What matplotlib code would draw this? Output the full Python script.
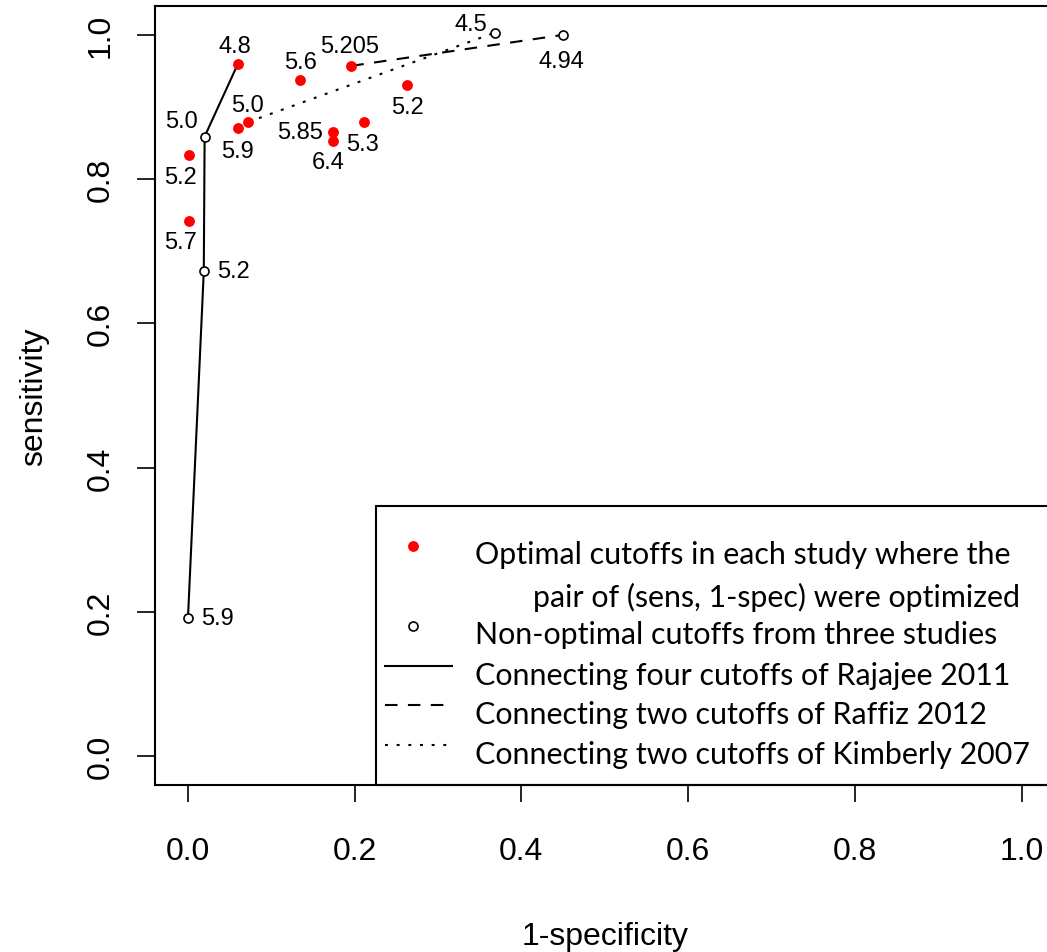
import matplotlib
matplotlib.use("Agg")
import matplotlib.pyplot as plt
from matplotlib.patches import Rectangle

# ---- data ----
opt_x = [0.060, 0.135, 0.196, 0.263, 0.072, 0.060, 0.1735, 0.1735, 0.211, 0.001, 0.001]
opt_y = [0.960, 0.937, 0.957, 0.931, 0.879, 0.871, 0.866, 0.853, 0.879, 0.834, 0.742]
opt_labels = ["4.8", "5.6", "5.205", "5.2", "5.0", "5.9", "5.85", "6.4", "5.3", "5.2", "5.7"]

non_x = [0.020, 0.019, 0.0, 0.368, 0.450]
non_y = [0.859, 0.672, 0.191, 1.003, 1.000]
non_labels = ["5.0", "5.2", "5.9", "4.5", "4.94"]

rajajee_x = [0.060, 0.020, 0.019, 0.0]
rajajee_y = [0.960, 0.859, 0.672, 0.191]
raffiz_x = [0.196, 0.450]
raffiz_y = [0.957, 1.000]
kimberly_x = [0.072, 0.368]
kimberly_y = [0.879, 1.003]

xticks = [0.0, 0.2, 0.4, 0.6, 0.8, 1.0]
yticks = [0.0, 0.2, 0.4, 0.6, 0.8, 1.0]

legend_labels = [
    "Optimal cutoffs in each study where the",
    "pair of (sens, 1-spec) were optimized",
    "Non-optimal cutoffs from three studies",
    "Connecting four cutoffs of Rajajee 2011",
    "Connecting two cutoffs of Raffiz 2012",
    "Connecting two cutoffs of Kimberly 2007",
]

# label offsets in pixels (dx, dy) relative to point
opt_offsets = [(-3, 18), (0, 18), (-2, 20), (0, -22), (0, 17), (0, -23),
               (-33, 0), (-4, -21), (-1, -22), (-8, -22), (-8, -21)]
non_offsets = [(-23, 16), (30, 0), (30, 0), (-24, 9), (-2, -26)]

W, H = 1047, 953
fig = plt.figure(figsize=(W / 100, H / 100), dpi=100)
left, right, bottom, top = 154.6, 1055.0, 786.0, 7.0
ax = fig.add_axes([left / W, 1 - bottom / H, (right - left) / W, (bottom - top) / H])
ax.set_xlim(-0.04, 1.04)
ax.set_ylim(-0.04, 1.04)

lw = 1.5
dash = (6, 5)
dot = (1.4, 4.2)
ax.plot(rajajee_x, rajajee_y, color="black", lw=lw, zorder=2)
ax.plot(raffiz_x, raffiz_y, color="black", lw=lw, dashes=dash, zorder=2)
ax.plot(kimberly_x, kimberly_y, color="black", lw=lw, dashes=dot, zorder=2)
ax.plot(opt_x, opt_y, "o", color="#ff0000", markersize=7.8, markeredgewidth=0, zorder=3)
ax.plot(non_x, non_y, "o", markerfacecolor="white", markeredgecolor="black",
        markersize=6.5, markeredgewidth=1.2, zorder=3)

lab_font = dict(family=["Liberation Sans", "DejaVu Sans"], fontsize=17)
for x, y, s, (dx, dy) in zip(opt_x, opt_y, opt_labels, opt_offsets):
    ax.annotate(s, (x, y), xytext=(dx, dy), textcoords="offset pixels",
                ha="center", va="center", **lab_font)
for x, y, s, (dx, dy) in zip(non_x, non_y, non_labels, non_offsets):
    ax.annotate(s, (x, y), xytext=(dx, dy), textcoords="offset pixels",
                ha="center", va="center", **lab_font)

# axes styling
for sp in ax.spines.values():
    sp.set_linewidth(1.5)
ax.set_xticks(xticks)
ax.set_yticks(yticks)
ax.set_xticklabels([f"{v:.1f}" for v in xticks], family=["Liberation Sans", "DejaVu Sans"], fontsize=23)
ax.set_yticklabels([f"{v:.1f}" for v in yticks], family=["Liberation Sans", "DejaVu Sans"],
                   fontsize=23, rotation=90, va="center")
ax.tick_params(axis="x", length=12.5, width=1.2, pad=24)
ax.tick_params(axis="y", length=13, width=1.2, pad=15)
ax.set_xlabel("1-specificity", family=["Liberation Sans", "DejaVu Sans"], fontsize=23, labelpad=40)
ax.set_ylabel("sensitivity", family=["Liberation Sans", "DejaVu Sans"],
              fontsize=23, labelpad=26)

# legend box (figure pixel layout)
def fx(px):
    return px / W
def fy(py):
    return 1 - py / H

fig.patches.append(Rectangle((fx(376), fy(786)), fx(1055) - fx(376), fy(507) - fy(786),
                             transform=fig.transFigure, fill=False, edgecolor="black", lw=1.5, zorder=5))
leg_font = dict(family=["Lato", "DejaVu Sans"], fontsize=21.9)
fig.lines.append(plt.Line2D([fx(413)], [fy(547)], marker="o", color="#ff0000", markersize=7.8,
                            markeredgewidth=0, transform=fig.transFigure))
fig.lines.append(plt.Line2D([fx(413)], [fy(627)], marker="o", markerfacecolor="white", markeredgecolor="black",
                            markersize=6.5, markeredgewidth=1.2, transform=fig.transFigure))
fig.lines.append(plt.Line2D([fx(385), fx(452)], [fy(667), fy(667)], color="black", lw=lw,
                            transform=fig.transFigure))
fig.lines.append(plt.Line2D([fx(385), fx(452)], [fy(706), fy(706)], color="black", lw=lw, dashes=dash,
                            transform=fig.transFigure))
fig.lines.append(plt.Line2D([fx(385), fx(452)], [fy(746), fy(746)], color="black", lw=lw, dashes=dot,
                            transform=fig.transFigure))
text_ys = [555, 597, 635, 676, 715, 755]
for i, (s, ty) in enumerate(zip(legend_labels, text_ys)):
    if i == 1:
        fig.text(fx(1020), fy(ty), s, ha="right", va="center", **leg_font)
    else:
        fig.text(fx(475), fy(ty), s, ha="left", va="center", **leg_font)

fig.savefig("out.png", dpi=100)
